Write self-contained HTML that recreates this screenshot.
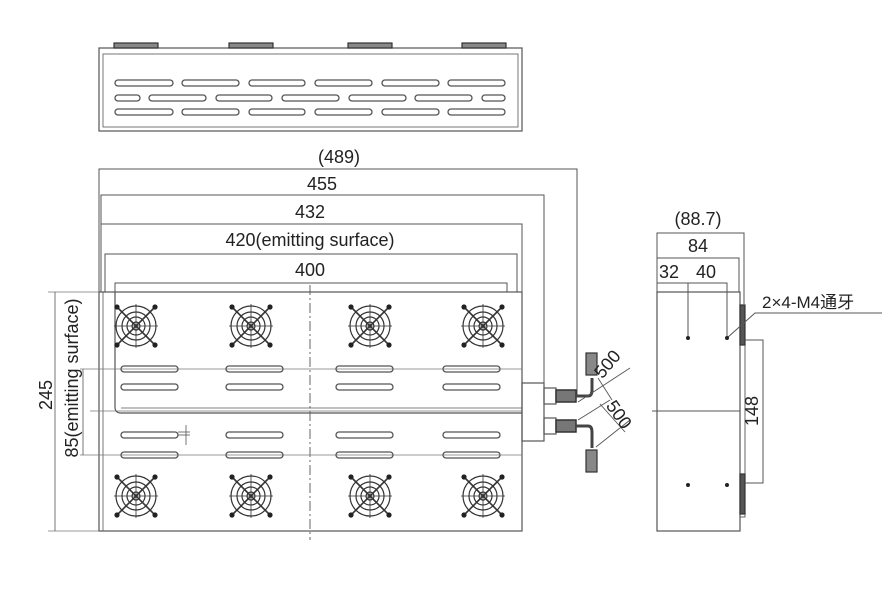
<!DOCTYPE html>
<html><head><meta charset="utf-8"><style>
html,body{margin:0;padding:0;background:#fff;}
svg{display:block;}
text{font-family:"Liberation Sans","Noto Sans CJK SC",sans-serif;fill:#222;}
</style></head><body>
<svg width="893" height="599" viewBox="0 0 893 599" xmlns="http://www.w3.org/2000/svg">
<defs>
<g id="fan" stroke="#333" fill="none">
  <circle r="20" stroke-width="1.2"/>
  <circle r="14" stroke-width="1.2"/>
  <circle r="9" stroke-width="1.2"/>
  <circle r="4" stroke-width="1.2"/>
  <line x1="-22" y1="0" x2="22" y2="0" stroke-width="0.8"/>
  <line x1="0" y1="-22" x2="0" y2="22" stroke-width="0.8"/>
  <line x1="-19" y1="-19" x2="19" y2="19" stroke-width="1.6"/>
  <line x1="19" y1="-19" x2="-19" y2="19" stroke-width="1.6"/>
  <circle cx="-19" cy="-19" r="2.6" fill="#222" stroke="none"/>
  <circle cx="19" cy="-19" r="2.6" fill="#222" stroke="none"/>
  <circle cx="-19" cy="19" r="2.6" fill="#222" stroke="none"/>
  <circle cx="19" cy="19" r="2.6" fill="#222" stroke="none"/>
</g>
</defs>
<g fill="none" stroke="#555" stroke-width="1.2">
<!-- TOP VIEW -->
<rect x="99" y="48" width="423" height="83"/>
<rect x="103" y="54" width="415" height="73" stroke-width="0.8"/>
<g fill="#888" stroke="#333">
<rect x="114" y="43" width="44" height="5"/><rect x="229" y="43" width="44" height="5"/>
<rect x="348" y="43" width="44" height="5"/><rect x="462" y="43" width="44" height="5"/>
</g>
<g stroke-width="1.3">
<rect x="115" y="80" width="58" height="6" rx="3"/><rect x="182" y="80" width="57" height="6" rx="3"/><rect x="249" y="80" width="56" height="6" rx="3"/><rect x="315" y="80" width="57" height="6" rx="3"/><rect x="382" y="80" width="57" height="6" rx="3"/><rect x="448" y="80" width="57" height="6" rx="3"/>
<rect x="115" y="95" width="25" height="6" rx="3"/><rect x="149" y="95" width="57" height="6" rx="3"/><rect x="216" y="95" width="56" height="6" rx="3"/><rect x="282" y="95" width="57" height="6" rx="3"/><rect x="349" y="95" width="57" height="6" rx="3"/><rect x="415" y="95" width="57" height="6" rx="3"/><rect x="482" y="95" width="23" height="6" rx="3"/>
<rect x="115" y="109" width="58" height="6" rx="3"/><rect x="182" y="109" width="57" height="6" rx="3"/><rect x="249" y="109" width="56" height="6" rx="3"/><rect x="315" y="109" width="57" height="6" rx="3"/><rect x="382" y="109" width="57" height="6" rx="3"/><rect x="448" y="109" width="57" height="6" rx="3"/>
</g>

<g stroke-width="1">
<polyline points="99,292 99,169 577,169 577,395"/>
<polyline points="101,292 101,195 544,195 544,385"/>
<polyline points="101,224 522,224 522,292"/>
<polyline points="105,292 105,254 517,254 517,292"/>
<polyline points="115,292 115,283 507,283 507,292"/>
</g>

<rect x="99" y="292" width="423" height="239"/>
<line x1="103" y1="292" x2="103" y2="531" stroke-width="0.8"/>
<path d="M115 292 V407 Q115 413 121 413 H522" stroke-width="1.2"/>
<line x1="121" y1="408" x2="522" y2="408" stroke-width="0.8"/>
<line x1="310" y1="285" x2="310" y2="540" stroke-width="0.9" stroke-dasharray="10,3,2,3"/>
<g stroke-width="0.8" stroke="#777">
<line x1="48" y1="292" x2="99" y2="292"/>
<line x1="48" y1="531" x2="99" y2="531"/>
<line x1="80" y1="369" x2="522" y2="369"/>
<line x1="80" y1="455" x2="522" y2="455"/>
<line x1="90" y1="411" x2="522" y2="411"/>
<line x1="55" y1="292" x2="55" y2="531" stroke="#555"/>
<line x1="83" y1="369" x2="83" y2="455" stroke="#555"/>
</g>
<g stroke-width="1.3">
<rect x="121" y="366" width="57" height="6" rx="3"/><rect x="226" y="366" width="57" height="6" rx="3"/><rect x="336" y="366" width="57" height="6" rx="3"/><rect x="443" y="366" width="57" height="6" rx="3"/>
<rect x="121" y="384" width="57" height="6" rx="3"/><rect x="226" y="384" width="57" height="6" rx="3"/><rect x="336" y="384" width="57" height="6" rx="3"/><rect x="443" y="384" width="57" height="6" rx="3"/>
<rect x="121" y="432" width="57" height="6" rx="3"/><rect x="226" y="432" width="57" height="6" rx="3"/><rect x="336" y="432" width="57" height="6" rx="3"/><rect x="443" y="432" width="57" height="6" rx="3"/>
<rect x="121" y="452" width="57" height="6" rx="3"/><rect x="226" y="452" width="57" height="6" rx="3"/><rect x="336" y="452" width="57" height="6" rx="3"/><rect x="443" y="452" width="57" height="6" rx="3"/>
</g>
<g stroke-width="0.8"><line x1="178" y1="435" x2="190" y2="435"/><line x1="178" y1="432" x2="190" y2="432"/><line x1="186" y1="425" x2="186" y2="445"/></g>

<rect x="522" y="383" width="22" height="58" stroke-width="1.2"/>
<rect x="544" y="388" width="12" height="16"/>
<rect x="544" y="418" width="12" height="16"/>
<g stroke="#333" stroke-width="1.5">
<rect x="556" y="390" width="20" height="12" fill="#777"/>
<rect x="556" y="420" width="20" height="12" fill="#777"/>
</g>
<path d="M576 396 H588 Q592 396 592 390 V378" stroke-width="3" stroke="#444"/>
<path d="M576 426 H588 Q592 426 592 432 V448" stroke-width="3" stroke="#444"/>
<rect x="586" y="353" width="11" height="22" fill="#888" stroke="#333"/>
<rect x="586" y="450" width="11" height="22" fill="#888" stroke="#333"/>
<g stroke-width="0.9">
<line x1="578" y1="402" x2="630" y2="368"/>
<line x1="598" y1="378" x2="612" y2="400"/>
<line x1="578" y1="420" x2="610" y2="400"/>
<line x1="600" y1="404" x2="625" y2="432"/>
<line x1="596" y1="447" x2="630" y2="420"/>
</g>

<rect x="657" y="292" width="83" height="239"/>
<rect x="740" y="305" width="5" height="212" stroke-width="0.9"/>
<rect x="740" y="305" width="5" height="40" fill="#555" stroke="#333"/>
<rect x="740" y="474" width="5" height="40" fill="#555" stroke="#333"/>
<g stroke-width="1">
<polyline points="657,292 657,233 744,233 744,305"/>
<polyline points="657,258 739,258 739,292"/>
<polyline points="657,283 727,283 727,338"/>
<line x1="688" y1="283" x2="688" y2="338"/>
<polyline points="745,340 763,340 763,483 745,483"/>
<line x1="652" y1="411" x2="740" y2="411"/>
<polyline points="727,338 755,313 882,313"/>
</g>
<g fill="#222" stroke="none">
<circle cx="688" cy="338" r="2"/><circle cx="727" cy="338" r="2"/>
<circle cx="688" cy="485" r="2"/><circle cx="727" cy="485" r="2"/>
</g>
</g>

<use href="#fan" x="136" y="326"/><use href="#fan" x="251" y="326"/><use href="#fan" x="370" y="326"/><use href="#fan" x="483" y="326"/>
<use href="#fan" x="136" y="496"/><use href="#fan" x="251" y="496"/><use href="#fan" x="370" y="496"/><use href="#fan" x="483" y="496"/>

<g font-size="18">
<text x="339" y="163" text-anchor="middle">(489)</text>
<text x="322" y="190" text-anchor="middle">455</text>
<text x="310" y="218" text-anchor="middle">432</text>
<text x="310" y="246" text-anchor="middle">420(emitting surface)</text>
<text x="310" y="276" text-anchor="middle">400</text>
<text transform="translate(52,395) rotate(-90)" text-anchor="middle">245</text>
<text transform="translate(78,378) rotate(-90)" text-anchor="middle">85(emitting surface)</text>
<text transform="translate(612,368) rotate(-50)" text-anchor="middle">500</text>
<text transform="translate(614,418) rotate(55)" text-anchor="middle">500</text>
<text x="698" y="225" text-anchor="middle">(88.7)</text>
<text x="698" y="252" text-anchor="middle">84</text>
<text x="659" y="278">32</text>
<text x="696" y="278">40</text>
<text transform="translate(758,411) rotate(-90)" text-anchor="middle">148</text>
<text x="762" y="308" font-size="17">2×4-M4通牙</text>
</g>
</svg>
</body></html>
